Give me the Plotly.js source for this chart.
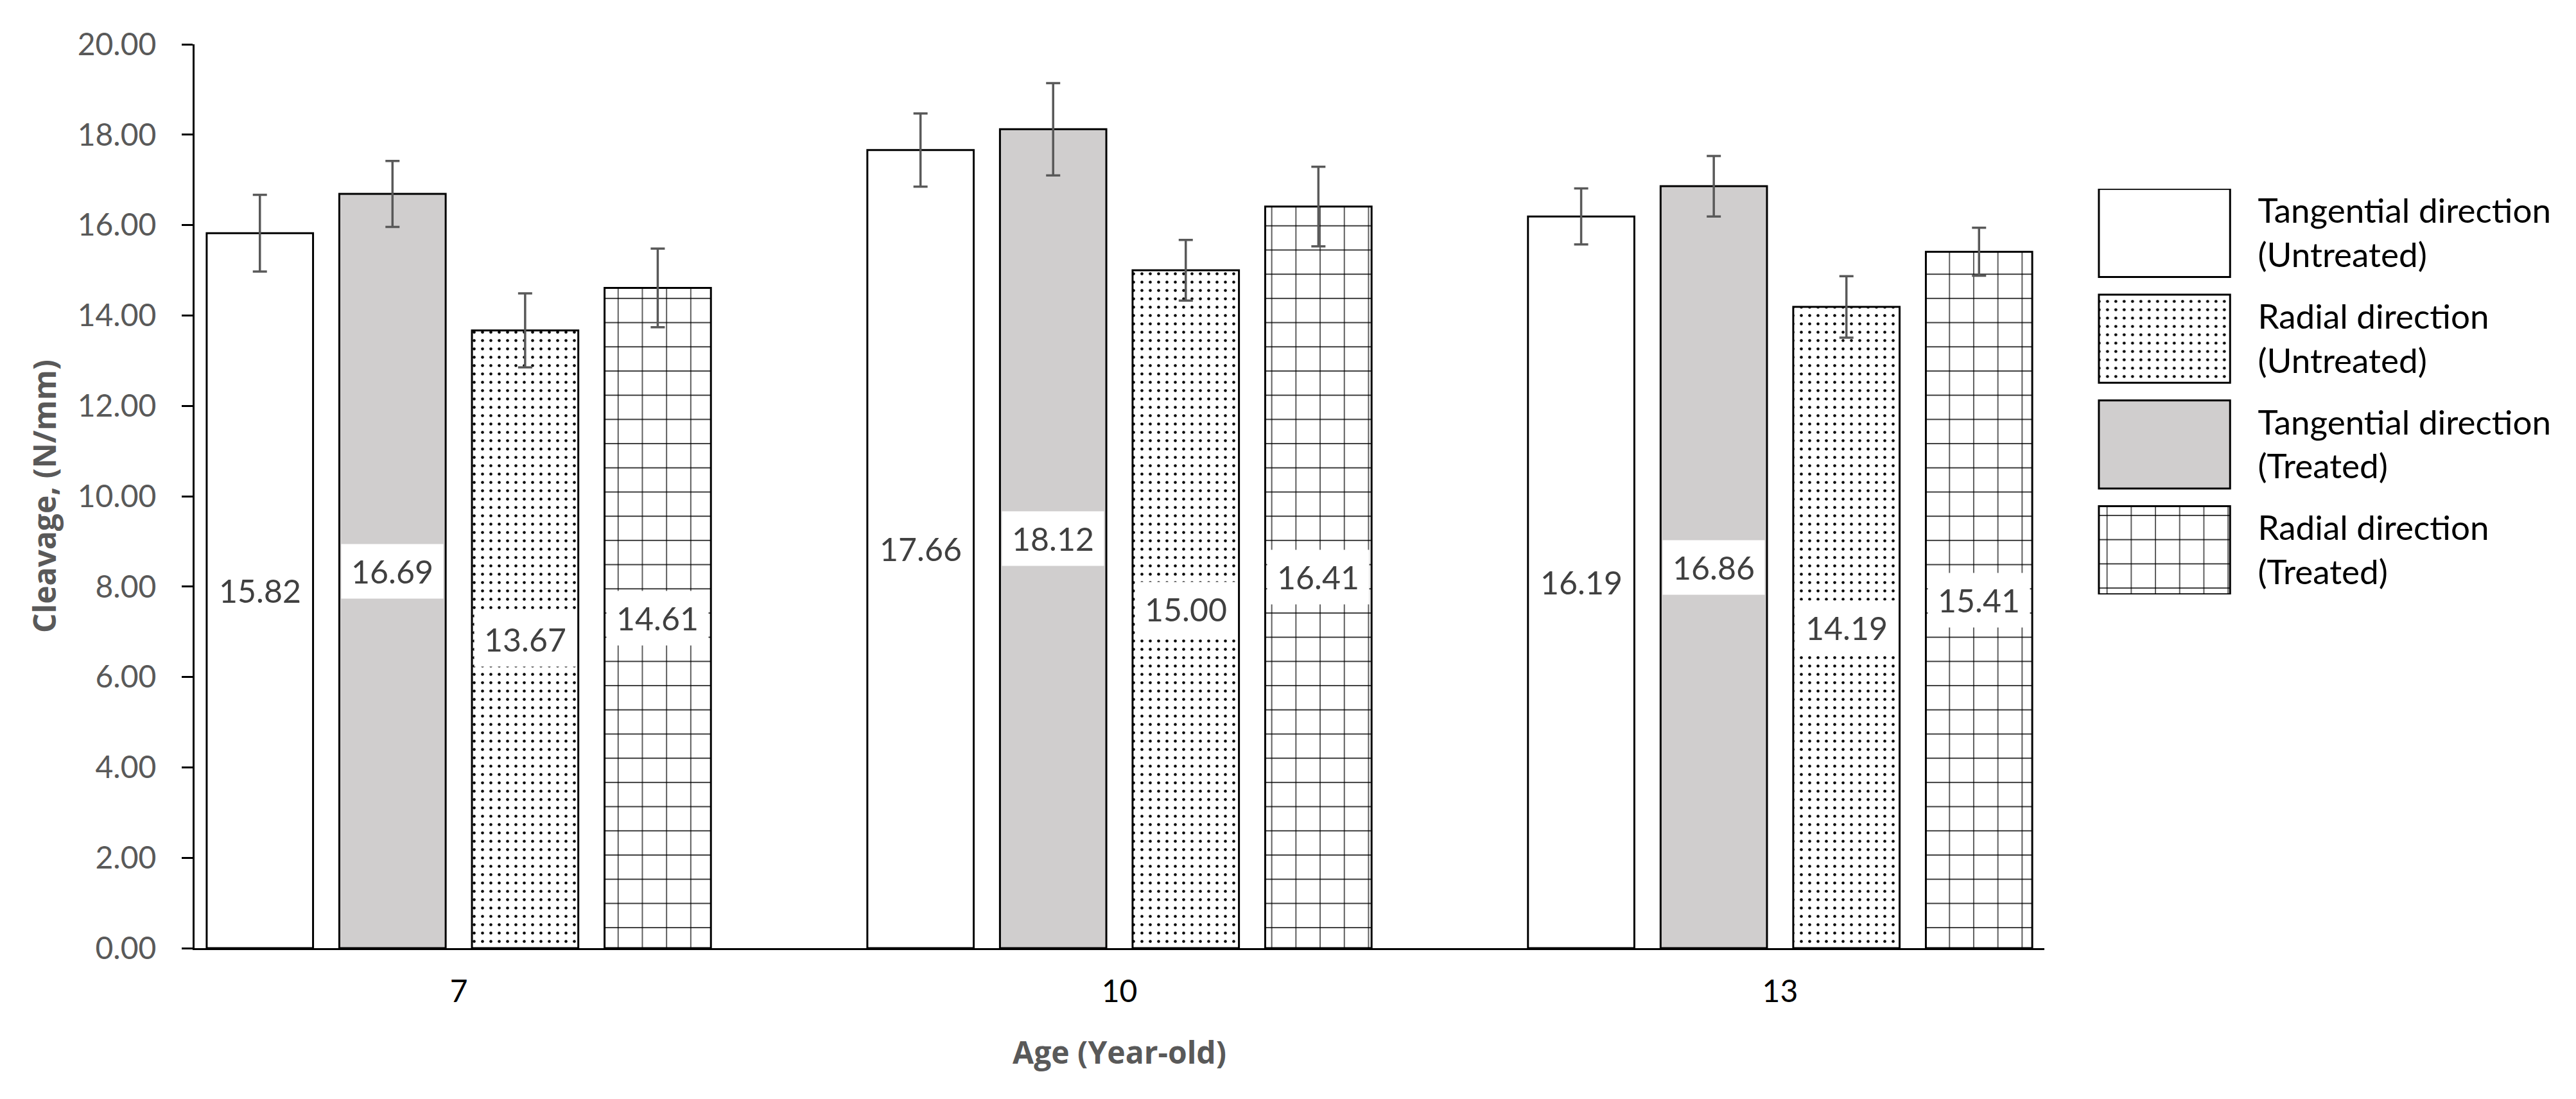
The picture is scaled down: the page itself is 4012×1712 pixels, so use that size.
<!DOCTYPE html>
<html>
<head>
<meta charset="utf-8">
<script src="https://cdn.plot.ly/plotly-3.0.1.min.js"></script>
<style>html,body{margin:0;padding:0;background:#fff;}#chart{width:4012px;height:1712px;}</style>
</head>
<body>
<div id="chart"></div>
<script>
// ---- data ----
const ages = ['7', '10', '13'];
const seriesNames = [
  'Tangential direction (Untreated)',
  'Radial direction (Untreated)',
  'Tangential direction (Treated)',
  'Radial direction (Treated)'
];
const tangentialUntreated = [15.82, 17.66, 16.19];
const tangentialUntreatedErr = [0.85, 0.81, 0.62];
const tangentialTreated = [16.69, 18.12, 16.86];
const tangentialTreatedErr = [0.73, 1.02, 0.67];
const radialUntreated = [13.67, 15.00, 14.19];
const radialUntreatedErr = [0.82, 0.67, 0.68];
const radialTreated = [14.61, 16.41, 15.41];
const radialTreatedErr = [0.87, 0.88, 0.53];
const yTicks = [0, 2, 4, 6, 8, 10, 12, 14, 16, 18, 20];

// ---- styles ----
const FONT = 'Lato, "Open Sans", sans-serif';
const TITLE_FONT = '"Open Sans", Lato, sans-serif';
const GRAY_FILL = '#D0CECE';
const styles = [
  {color: 'white', shape: '', size: 8, solidity: 0.3},
  {color: 'white', shape: '.', size: 13, solidity: 0.1},
  {color: GRAY_FILL, shape: '', size: 8, solidity: 0.3},
  {color: 'white', shape: '+', size: 37.7, solidity: 0.065}
];
// plot order in group: TU, TT, RU, RT
const order = [
  {name: seriesNames[0], y: tangentialUntreated, e: tangentialUntreatedErr, s: styles[0]},
  {name: seriesNames[2], y: tangentialTreated, e: tangentialTreatedErr, s: styles[2]},
  {name: seriesNames[1], y: radialUntreated, e: radialUntreatedErr, s: styles[1]},
  {name: seriesNames[3], y: radialTreated, e: radialTreatedErr, s: styles[3]}
];

const BARGAP = 0.197, BARGROUPGAP = 0.198;

function markerFor(s) {
  const m = {color: s.color, line: {color: '#000000', width: 3}};
  if (s.shape) {
    m.pattern = {shape: s.shape, size: s.size, solidity: s.solidity,
                 fgcolor: '#000000', bgcolor: s.color, fillmode: 'replace'};
  }
  return m;
}

const traces = order.map(o => ({
  type: 'bar',
  name: o.name,
  x: ages,
  y: o.y,
  xaxis: 'x', yaxis: 'y',
  showlegend: false,
  marker: markerFor(o.s),
  error_y: {type: 'data', array: o.e, visible: true, color: '#595959', thickness: 3.5, width: 11},
  hoverinfo: 'x+y+name'
}));

// legend keys drawn as a small bar subplot (one key per series)
const legendLabels = seriesNames.map(n => n.replace(' (', '<br>('));
seriesNames.forEach((n, i) => {
  traces.push({
    type: 'bar',
    orientation: 'h',
    xaxis: 'x2', yaxis: 'y2',
    name: n,
    y: [legendLabels[i]],
    x: [1],
    width: 0.833,
    offset: -0.4165,
    showlegend: false,
    hoverinfo: 'skip',
    marker: markerFor(styles[i])
  });
});

// value labels centred in bars with white box
const nS = order.length;
const slot = (1 - BARGAP) / nS;
const annotations = [];
order.forEach((o, si) => {
  const off = -(1 - BARGAP) / 2 + slot * (si + 0.5);
  o.y.forEach((v, ci) => {
    annotations.push({
      xref: 'x', yref: 'y', x: ci + off, y: v / 2,
      text: v.toFixed(2), showarrow: false,
      font: {family: FONT, size: 50, color: '#404040'},
      bgcolor: 'white', width: 144, height: 70, borderpad: 7
    });
  });
});

const layout = {
  width: 4012, height: 1712,
  paper_bgcolor: 'white', plot_bgcolor: 'white',
  margin: {l: 303, r: 0, t: 69, b: 235, autoexpand: false},
  barmode: 'group', bargap: BARGAP, bargroupgap: BARGROUPGAP,
  font: {family: FONT, size: 48, color: '#595959'},
  showlegend: false,
  xaxis: {
    type: 'category', domain: [0, 0.77676], range: [-0.4, 2.4],
    showline: true, linecolor: '#000000', linewidth: 3,
    ticks: '', showgrid: false, zeroline: false,
    tickfont: {family: FONT, size: 48, color: '#000000'},
    ticklabelstandoff: 23, automargin: false,
    title: {text: 'Age (Year-old)', font: {family: TITLE_FONT, size: 48, color: '#595959', weight: 'bold'}, standoff: 54}
  },
  yaxis: {
    domain: [0, 1], range: [0, 20], tickvals: yTicks, tickformat: '.2f',
    showline: true, linecolor: '#000000', linewidth: 3,
    ticks: 'outside', ticklen: 17, tickwidth: 3, tickcolor: '#000000',
    showgrid: false, zeroline: false,
    tickfont: {family: FONT, size: 48, color: '#595959'},
    ticklabelstandoff: 30, automargin: false,
    title: {text: 'Cleavage, (N/mm)', font: {family: TITLE_FONT, size: 48, color: '#595959', weight: 'bold'}, standoff: 18}
  },
  xaxis2: {
    domain: [0.7980, 0.8564], range: [-0.03, 1.03], anchor: 'y2',
    visible: false, fixedrange: true
  },
  yaxis2: {
    domain: [0.3913, 0.8402], range: [3.418, -0.418], anchor: 'x2', side: 'right',
    type: 'category', categoryorder: 'array', categoryarray: legendLabels,
    showline: false, ticks: '', showgrid: false, zeroline: false,
    tickfont: {family: FONT, size: 53, color: '#000000'},
    ticklabelstandoff: 36, automargin: false, fixedrange: true
  },
  annotations: annotations
};

Plotly.newPlot('chart', traces, layout, {displayModeBar: false, staticPlot: true});
</script>
</body>
</html>
